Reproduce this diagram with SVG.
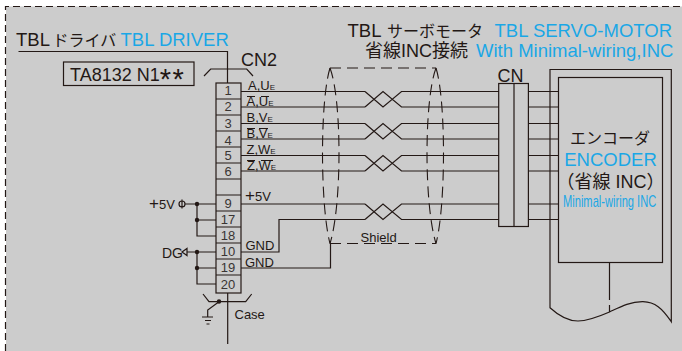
<svg xmlns="http://www.w3.org/2000/svg" width="682" height="351" viewBox="0 0 682 351">
<defs>
<style>
text{font-family:"Liberation Sans","Noto Sans CJK JP",sans-serif;fill:#231815}
.b{fill:#1aa7e6}
.w{fill:none;stroke:#231815;stroke-width:1.2}
.d{fill:#231815;stroke:none}
.n{font-size:13px;text-anchor:middle;fill:#3a3533}
.s{font-size:13px}
.e{font-size:8px}
.t{font-size:18.500px}
.k{font-size:16px}
.dash{fill:none;stroke:#231815;stroke-width:1.1;stroke-dasharray:11 6}
</style>
<path id="tw" d="M365 0L383 15.500L401.500 0H499M365 15.500L383 0L401.500 15.500H499" class="w"/>
</defs>
<rect x="6" y="6.500" width="676" height="344.500" fill="#cccccc"/>
<path d="M5.500 351V6.500H682" fill="none" stroke="#231815" stroke-width="1.200" stroke-dasharray="7 4"/>
<g id="connectors">
<path class="w" d="M18.500 51.500H227.500V83"/>
<path class="w" d="M204 76L210.700 69H246.700L253 76"/>
<path class="w" d="M241 91.500H365M241 107H365M241 123.500H365M241 139H365M241 155.500H365M241 171H365M241 204H365"/>
<use href="#tw" x="0" y="91.500"/>
<use href="#tw" x="0" y="123.500"/>
<use href="#tw" x="0" y="155.500"/>
<use href="#tw" x="0" y="204"/>
<path class="w" d="M528.500 91.500H558.500M528.500 107H558.500M528.500 123.500H558.500M528.500 139H558.500M528.500 155.500H558.500M528.500 171H558.500M528.500 204H558.500M528.500 219.500H558.500"/>
<path class="w" d="M187 204H216M197 204V236H216M197 220H216M187 252H216M197 252V284H216M197 268H216"/>
<path class="w" d="M241 252H279V219.500H365"/>
<path class="w" d="M241 268H330.500V243"/>
<path class="w" d="M227.700 293V344"/>
<path class="w" d="M203 294L209 301.700H245.700L251.700 294M219 301.700L207.700 310V317M202 317H213M205 320.500H211M206.500 324H209.500"/>
<path class="dash" d="M330 68H436"/>
<path class="dash" d="M330 243.500H436"/>
<path class="dash" d="M330 68C320 100 320 205 330 243.500"/>
<path class="dash" d="M330 68C342 100 342 205 330 243.500"/>
<path class="dash" d="M436 68C424 100 424 205 436 243.500"/>
<path class="dash" d="M436 68C446 100 446 205 436 243.500"/>
<circle class="d" cx="197" cy="204" r="2.200"/><circle class="d" cx="197" cy="220" r="2.200"/><circle class="d" cx="197" cy="252" r="2.200"/><circle class="d" cx="197" cy="268" r="2.200"/><circle class="d" cx="219" cy="301.500" r="2.200"/>
</g>
<g id="driver-title"><text class="t" x="16" y="45.500">TBL</text><text class="k" x="52.500" y="45.500">ドライバ</text><text class="t b" x="120.500" y="45.500">TBL DRIVER</text></g>
<g id="model"><rect class="w" x="63.500" y="62" width="130.500" height="23.500"/><text x="70" y="81" font-size="18">TA8132 N1<tspan font-size="29" dy="8" letter-spacing="1.500">**</tspan></text></g>
<g id="cn2"><text x="241" y="66" font-size="18">CN2</text>
<rect class="w" x="216" y="83" width="25" height="210" fill="#ccc"/>
<path class="w" d="M216 99H241M216 115H241M216 131H241M216 147H241M216 163H241M216 179H241M216 195H241M216 211H241M216 227H241M216 243H241M216 259H241M216 275H241"/>
<text class="n" x="228" y="95">1</text><text class="n" x="228" y="111">2</text><text class="n" x="228" y="128">3</text><text class="n" x="228" y="145">4</text><text class="n" x="228" y="160">5</text><text class="n" x="228" y="176">6</text><text class="n" x="228" y="208">9</text><text class="n" x="228" y="224">17</text><text class="n" x="228" y="240">18</text><text class="n" x="228" y="256">10</text><text class="n" x="228" y="272">19</text><text class="n" x="228" y="289">20</text></g>
<g id="labels">
<text class="s" x="248" y="89.500">A,U<tspan class="e">E</tspan></text>
<text class="s" x="246.500" y="106">A,U<tspan class="e">E</tspan></text>
<text class="s" x="246.500" y="121.500">B,V<tspan class="e">E</tspan></text>
<text class="s" x="246.500" y="137.500">B,V<tspan class="e">E</tspan></text>
<text class="s" x="246.500" y="153.500">Z,W<tspan class="e">E</tspan></text>
<text class="s" x="247" y="169.500">Z,W<tspan class="e">E</tspan></text>
<path class="w" stroke-width="1" d="M247 96.500H255M261 96.500H269M247 128.500H255M259 128.500H268M247 160.500H255M261 160.500H273"/>
<text class="s" x="245" y="201"><tspan font-size="17">+</tspan>5V</text>
<text class="s" x="245.500" y="250">GND</text>
<text class="s" x="245" y="267">GND</text>
<text class="s" x="149" y="209"><tspan font-size="17">+</tspan>5V</text><path class="w" d="M185 204H187M179 204a3 3 0 1 0 6 0a3 3 0 1 0 -6 0M182 199.500V208.500"/>
<text class="s" x="162" y="258" style="font-size:14px">DG</text><path class="w" d="M187 252V248.500L182 252L187 255.500Z"/>
<text class="s" x="234.500" y="319">Case</text>
<text class="s" x="360.500" y="241.500">Shield</text>
</g>
<g id="motor-title"><text class="t" x="347.500" y="36.700">TBL</text><text class="k" x="387" y="36.700">サーボモータ</text><text class="t b" x="494.500" y="36.700">TBL SERVO-MOTOR</text>
<text x="365" y="56.700" font-size="18">省線INC接続</text><text class="t b" x="476" y="56.700">With Minimal-wiring,INC</text></g>
<g id="cn"><text x="497.500" y="82" font-size="18">CN</text><rect class="w" x="498.700" y="83.500" width="29.700" height="143" fill="#ccc"/><path class="w" d="M514 83.500V226.500"/></g>
<g id="encoder">
<path class="w" d="M550 307.700V69.500H671.300V321.700C662 308 655 302 643 301.700C630 301.500 620 307 609.500 312C598 317 588 321 578 321C567 321 558 315 550 307.700Z"/>
<rect class="w" x="558.500" y="77.500" width="104" height="185" fill="#ccc"/>
<path class="w" d="M609.500 262.500V300M609.500 305V312"/>
<text x="610" y="143.500" font-size="16" text-anchor="middle">エンコーダ</text>
<text class="t b" x="610.500" y="166" text-anchor="middle">ENCODER</text>
<text x="610.500" y="188" font-size="18" text-anchor="middle">（省線 INC）</text>
<text class="b" transform="translate(563 207) scale(.695 1)" font-size="16">Minimal-wiring INC</text>
</g>
</svg>
